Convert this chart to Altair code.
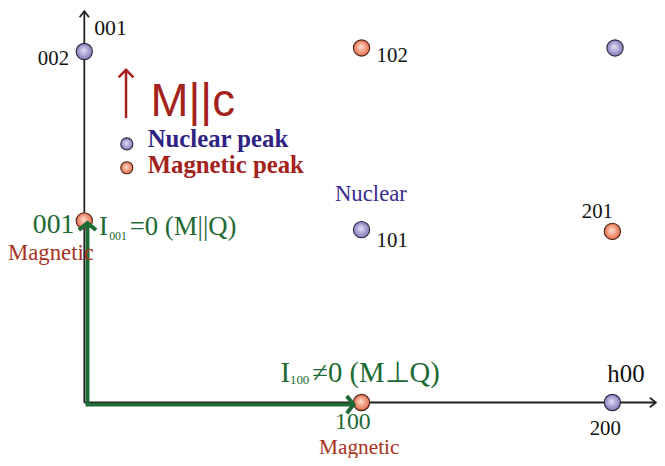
import altair as alt
import pandas as pd

# ---------------- data (reciprocal-lattice coordinates h, l) ----------------
peak_h = [0.0, 1.05, 2.01, 0.0, 1.05, 2.0, 1.05, 2.0]
peak_l = [1.99, 2.01, 2.01, 1.03, 0.98, 0.97, 0.0, 0.0]
peak_kind = ["Nuclear", "Magnetic", "Nuclear", "Magnetic", "Nuclear", "Magnetic", "Magnetic", "Nuclear"]

legend_kind = ["Nuclear", "Magnetic"]
legend_text = ["Nuclear peak", "Magnetic peak"]
legend_h = [0.161, 0.161]
legend_l = [1.466, 1.331]
legend_text_h = [0.240, 0.240]
legend_text_l = [1.446, 1.303]

# index labels (black)
idx_text = ["002", "102", "101", "201", "200"]
idx_h = [-0.176, 1.107, 1.107, 1.884, 1.914]
idx_l = [1.916, 1.933, 0.882, 1.045, -0.185]

axis_label_text = ["001", "h00"]
axis_label_h = [0.0375, 1.981]
axis_label_l = [2.084, 0.118]

# axes (origin -> arrow tips)
axis_x2 = [0.0, 2.165]
axis_y2 = [2.219, 0.0]

# green scattering-vector arrows
green_h = [0.012, 0.012, 1.02]
green_l = [1.017, -0.012, -0.012]

# moment direction arrow
m_arrow_h = 0.158
m_arrow_l = [1.612, 1.886]

X_DOM = [-0.289, 2.169]
Y_DOM = [-0.303, 2.225]

SERIF = "Liberation Serif"
SANS = "Liberation Sans"
GREEN = "#1d6a35"
DKRED = "#a3221b"
RED = "#a8321f"
INDIGO = "#2e2383"
PURPLE = "#3b2e8c"

xs = alt.Scale(domain=X_DOM, nice=False, zero=False)
ys = alt.Scale(domain=Y_DOM, nice=False, zero=False)


def X(f="h"):
    return alt.X(f + ":Q", scale=xs, axis=None)


def Y(f="l"):
    return alt.Y(f + ":Q", scale=ys, axis=None)


def grad(c0, c1):
    return alt.RadialGradient(
        gradient="radial",
        stops=[alt.GradientStop(offset=0, color=c0), alt.GradientStop(offset=1, color=c1)],
        x1=0.45, y1=0.42, r1=0, x2=0.5, y2=0.5, r2=0.55,
    )


NUC_FILL = grad("#e4e0f6", "#7a70b4")
MAG_FILL = grad("#ffe0d2", "#e4603c")

peaks = pd.DataFrame({"h": peak_h, "l": peak_l, "kind": peak_kind})
leg = pd.DataFrame({"h": legend_h, "l": legend_l, "kind": legend_kind,
                    "th": legend_text_h, "tl": legend_text_l, "t": legend_text})

layers = []

# black axes
ax_df = pd.DataFrame({"h": [0.0, 0.0], "l": [0.0, 0.0], "h2": axis_x2, "l2": axis_y2})
layers.append(alt.Chart(ax_df).mark_rule(color="#222222", strokeWidth=1.8).encode(
    x=X(), y=Y(), x2="h2:Q", y2="l2:Q"))
layers.append(alt.Chart(pd.DataFrame({"h": [axis_x2[0]], "l": [axis_y2[0]]})).mark_point(
    shape="M -1 1.3 L 0 0 L 1 1.3", size=90, filled=False, color="#222222", strokeWidth=1.8,
    opacity=1).encode(x=X(), y=Y()))
layers.append(alt.Chart(pd.DataFrame({"h": [axis_x2[1]], "l": [axis_y2[1]]})).mark_point(
    shape="M -1.3 -1 L 0 0 L -1.3 1", size=90, filled=False, color="#222222", strokeWidth=1.8,
    opacity=1).encode(x=X(), y=Y()))

# peaks
for kind, fill, stroke in [("Nuclear", NUC_FILL, "#2b2840"), ("Magnetic", MAG_FILL, "#4a2418")]:
    layers.append(alt.Chart(peaks).transform_filter(alt.datum.kind == kind).mark_point(
        shape="circle", filled=True, fill=fill, stroke=stroke, strokeWidth=1.1, size=270, opacity=1
    ).encode(x=X(), y=Y()))
    layers.append(alt.Chart(leg).transform_filter(alt.datum.kind == kind).mark_point(
        shape="circle", filled=True, fill=fill, stroke=stroke, strokeWidth=1.1, size=150, opacity=1
    ).encode(x=X(), y=Y()))

# green path
gdf = pd.DataFrame({"h": green_h, "l": green_l, "o": [0, 1, 2]})
layers.append(alt.Chart(gdf).mark_line(color=GREEN, strokeWidth=4, strokeJoin="miter").encode(
    x=X(), y=Y(), order="o:Q"))
layers.append(alt.Chart(pd.DataFrame({"h": [green_h[0]], "l": [green_l[0]]})).mark_point(
    shape="M -1 0.8 L 0 0 L 1 0.8", size=300, filled=False, color=GREEN, strokeWidth=4,
    opacity=1).encode(x=X(), y=Y()))
layers.append(alt.Chart(pd.DataFrame({"h": [green_h[2]], "l": [green_l[2]]})).mark_point(
    shape="M -0.8 -1 L 0 0 L -0.8 1", size=300, filled=False, color=GREEN, strokeWidth=4,
    opacity=1).encode(x=X(), y=Y()))

# M || c arrow
layers.append(alt.Chart(pd.DataFrame({"h": [m_arrow_h], "l": [m_arrow_l[0]], "l2": [m_arrow_l[1]]}))
              .mark_rule(color=DKRED, strokeWidth=2.5).encode(x=X(), y=Y(), y2="l2:Q"))
layers.append(alt.Chart(pd.DataFrame({"h": [m_arrow_h], "l": [m_arrow_l[1]]})).mark_point(
    shape="M -1 1 L 0 0 L 1 1", size=225, filled=False, color=DKRED, strokeWidth=2.5,
    opacity=1).encode(x=X(), y=Y()))


def txt(text, h, l, size, color="#111111", weight="normal", align="left", font=SERIF):
    d = pd.DataFrame({"h": [h], "l": [l], "t": [text]})
    return alt.Chart(d).mark_text(
        font=font, fontSize=size, color=color, fontWeight=weight, align=align,
        baseline="alphabetic").encode(x=X(), y=Y(), text="t:N")


# legend text
leg_colors = [INDIGO, DKRED]
for i in range(2):
    layers.append(txt(legend_text[i], legend_text_h[i], legend_text_l[i], 25, leg_colors[i], "bold"))

layers.append(txt("M||c", 0.251, 1.624, 46, DKRED, font=SANS))

# index labels
for t, h, l in zip(idx_text, idx_h, idx_l):
    layers.append(txt(t, h, l, 21))
layers.append(txt(axis_label_text[0], axis_label_h[0], axis_label_l[0], 22))
layers.append(txt(axis_label_text[1], axis_label_h[1], axis_label_l[1], 25))

layers.append(txt("Nuclear", 0.949, 1.140, 23, PURPLE))
layers.append(txt("Magnetic", -0.289, 0.809, 23, RED))
layers.append(txt("Magnetic", 0.889, -0.290, 21.5, RED))

# green annotations
layers.append(txt("001", -0.0375, 0.961, 28, GREEN, align="right"))
layers.append(txt("100", 1.017, -0.152, 24, GREEN, align="center"))
layers.append(txt("I", 0.056, 0.949, 27, GREEN))
layers.append(txt("001", 0.094, 0.921, 12, GREEN))
layers.append(txt("=0 (M||Q)", 0.172, 0.949, 27, GREEN))
layers.append(txt("I", 0.743, 0.118, 29, GREEN))
layers.append(txt("100", 0.779, 0.107, 13, GREEN))
layers.append(txt("\u22600 (M\u22a5Q)", 0.863, 0.118, 29, GREEN))

chart = alt.layer(*layers).properties(
    width=655, height=450, padding=0,
    autosize=alt.AutoSizeParams(type="none"),
    background="white",
).configure_view(stroke=None)

chart.save("out.html", embed_options={"renderer": "svg", "actions": False})
